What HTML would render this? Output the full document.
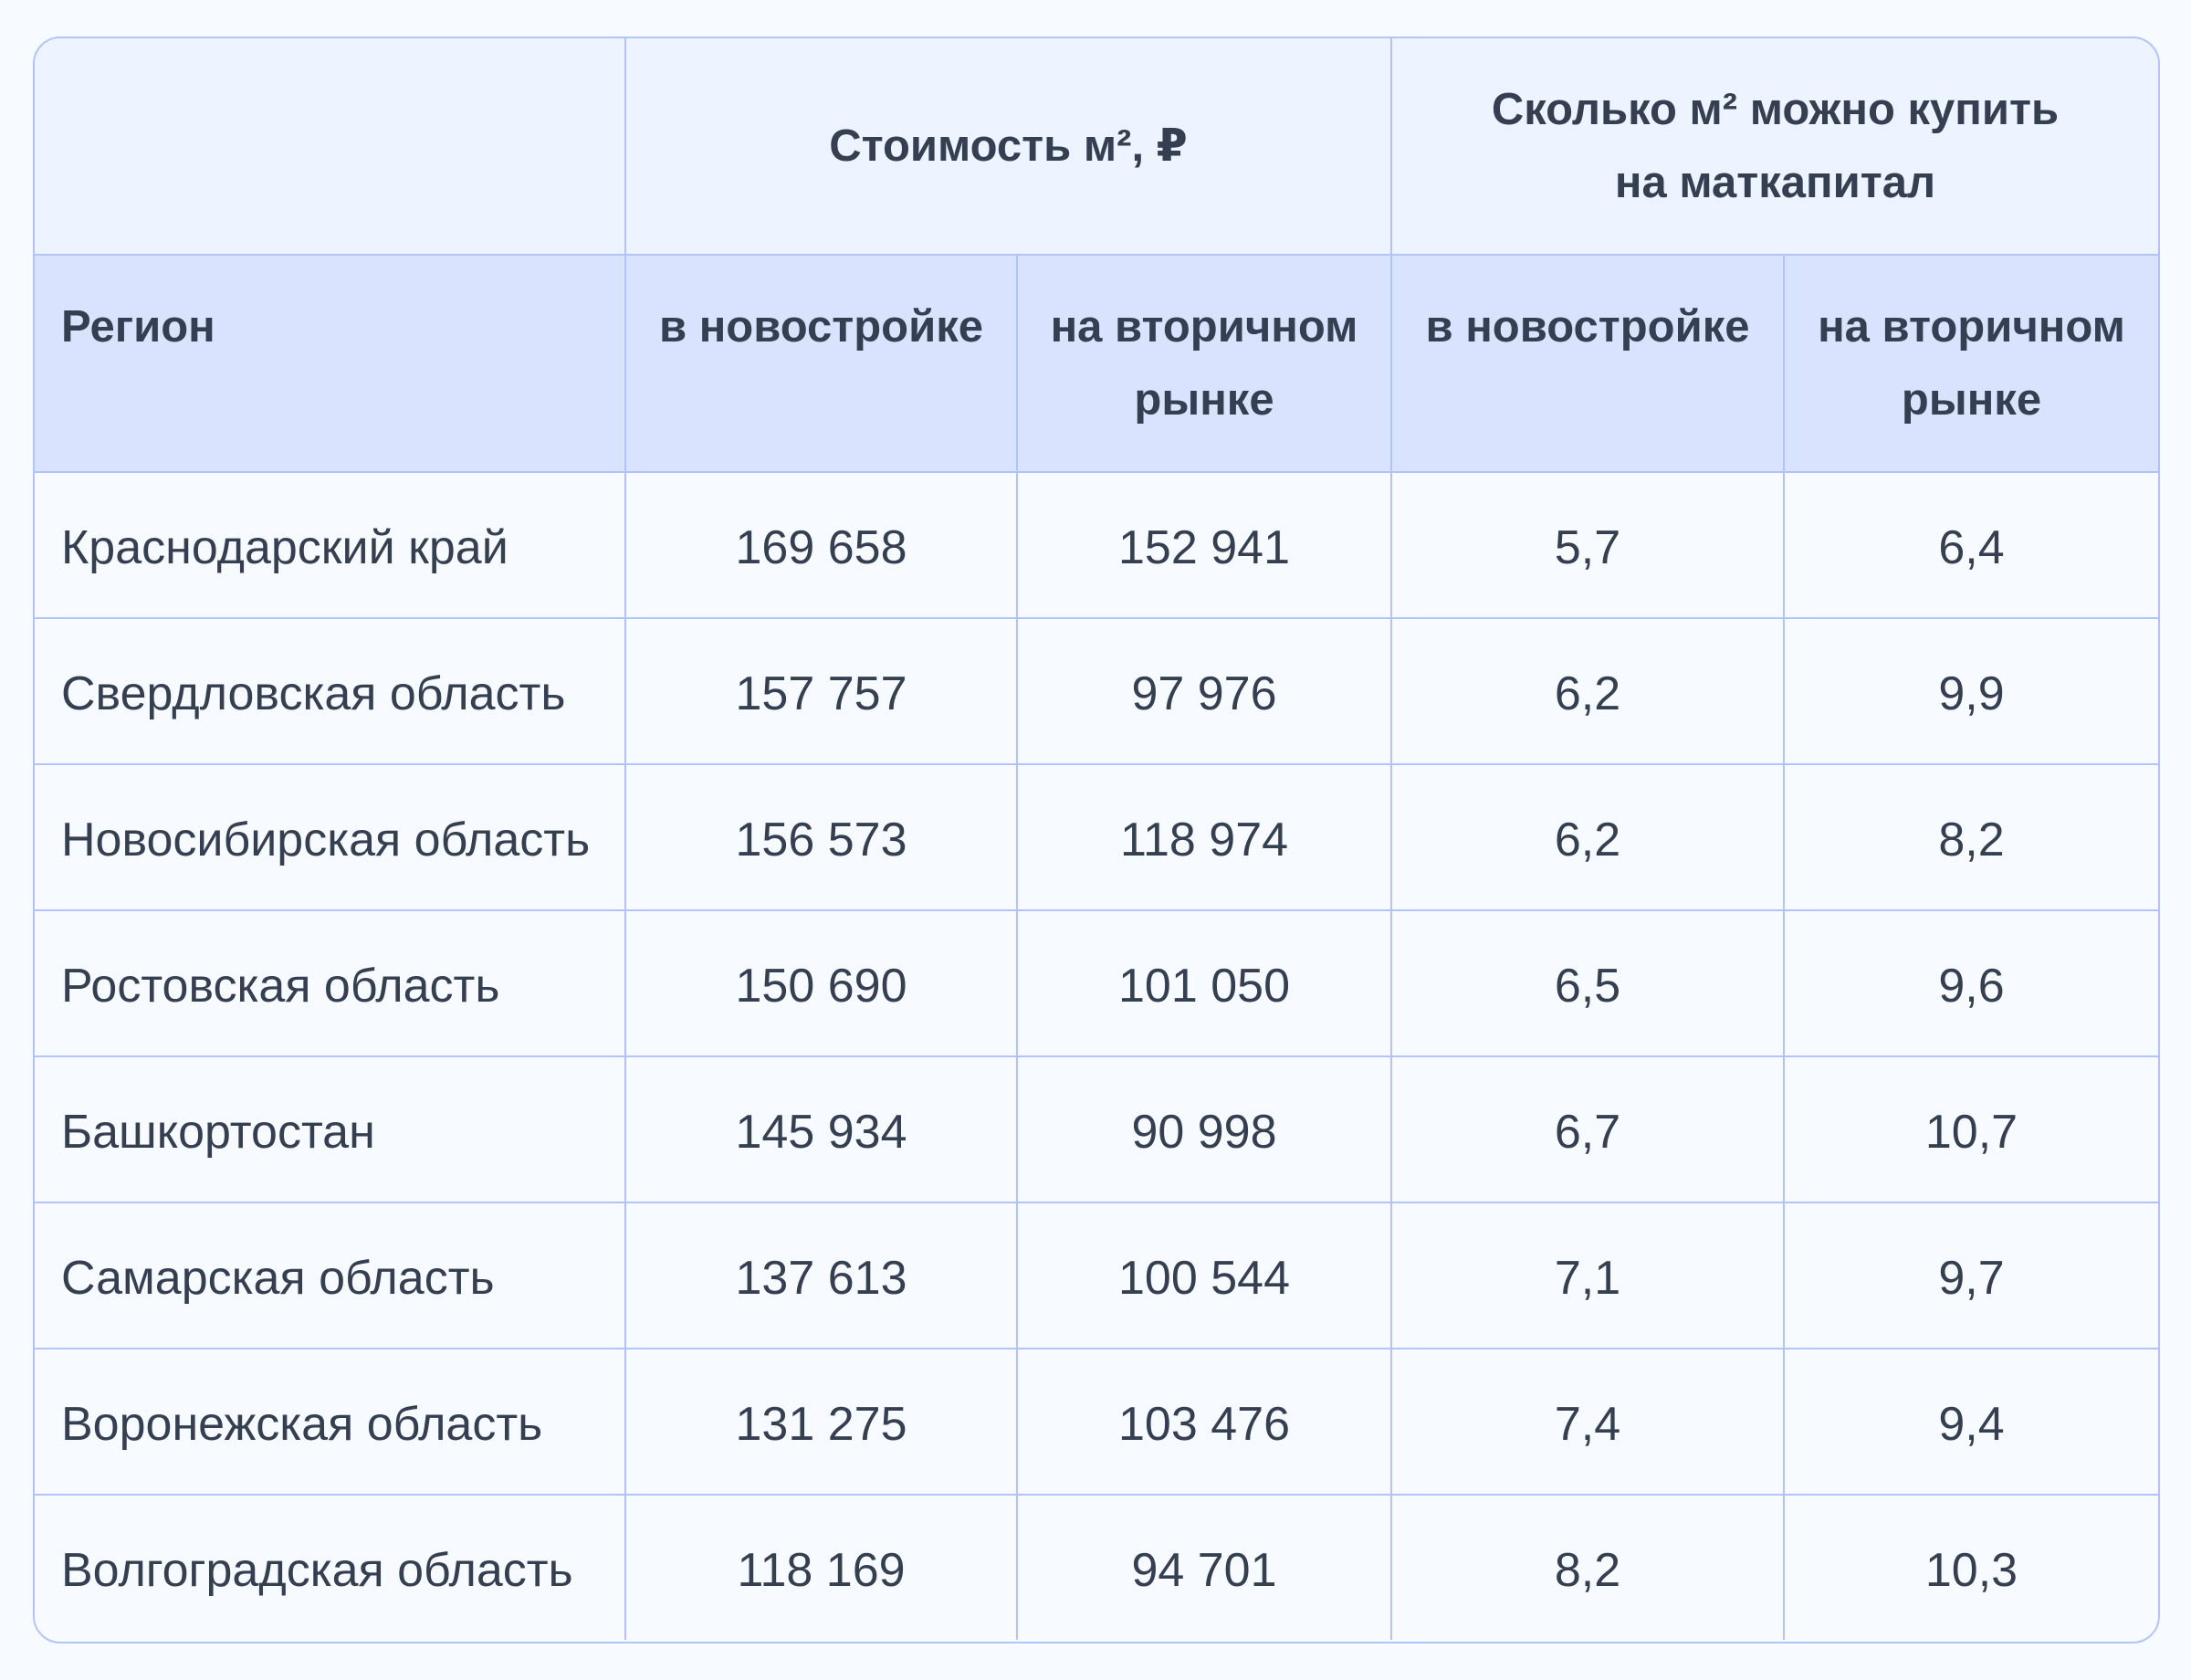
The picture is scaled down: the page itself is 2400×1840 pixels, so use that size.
<!DOCTYPE html>
<html><head><meta charset="utf-8"><style>
html,body{margin:0;padding:0;background:#f7faff;width:2400px;height:1840px;overflow:hidden}
.w{position:absolute;left:36px;top:40px;width:2326px;height:1756px;border:2px solid #b0c3fa;border-radius:30px;overflow:hidden;box-sizing:content-box;background:#f7faff}
table{border-collapse:collapse;border-style:hidden;width:2326px;table-layout:fixed;font-family:"Liberation Sans","DejaVu Sans",sans-serif;color:#343f52}
td{border:2px solid #b0c3fa;text-align:center;font-size:52px;padding:0}
tr.h1 td{background:#edf3ff;font-weight:bold;font-size:49px;line-height:80px;height:236px}
tr.h2 td{background:#d9e3fe;font-weight:bold;font-size:49px;line-height:80px;height:236px}
tr.r td{height:153px;padding-top:5px;background:#f7faff}
td.l{text-align:left;padding-left:29px}
</style></head><body>
<div class="w"><table>
<colgroup><col style="width:647px"><col style="width:429px"><col style="width:410px"><col style="width:430px"><col style="width:410px"></colgroup>
<tr class="h1"><td></td><td colspan="2">Стоимость м², ₽</td><td colspan="2">Сколько м² можно купить<br>на маткапитал</td></tr>
<tr class="h2"><td class="l">Регион<br>&nbsp;</td><td>в новостройке<br>&nbsp;</td><td>на вторичном<br>рынке</td><td>в новостройке<br>&nbsp;</td><td>на вторичном<br>рынке</td></tr>
<tr class="r"><td class="l">Краснодарский край</td><td>169 658</td><td>152 941</td><td>5,7</td><td>6,4</td></tr>
<tr class="r"><td class="l">Свердловская область</td><td>157 757</td><td>97 976</td><td>6,2</td><td>9,9</td></tr>
<tr class="r"><td class="l">Новосибирская область</td><td>156 573</td><td>118 974</td><td>6,2</td><td>8,2</td></tr>
<tr class="r"><td class="l">Ростовская область</td><td>150 690</td><td>101 050</td><td>6,5</td><td>9,6</td></tr>
<tr class="r"><td class="l">Башкортостан</td><td>145 934</td><td>90 998</td><td>6,7</td><td>10,7</td></tr>
<tr class="r"><td class="l">Самарская область</td><td>137 613</td><td>100 544</td><td>7,1</td><td>9,7</td></tr>
<tr class="r"><td class="l">Воронежская область</td><td>131 275</td><td>103 476</td><td>7,4</td><td>9,4</td></tr>
<tr class="r"><td class="l">Волгоградская область</td><td>118 169</td><td>94 701</td><td>8,2</td><td>10,3</td></tr>
</table></div>
</body></html>
